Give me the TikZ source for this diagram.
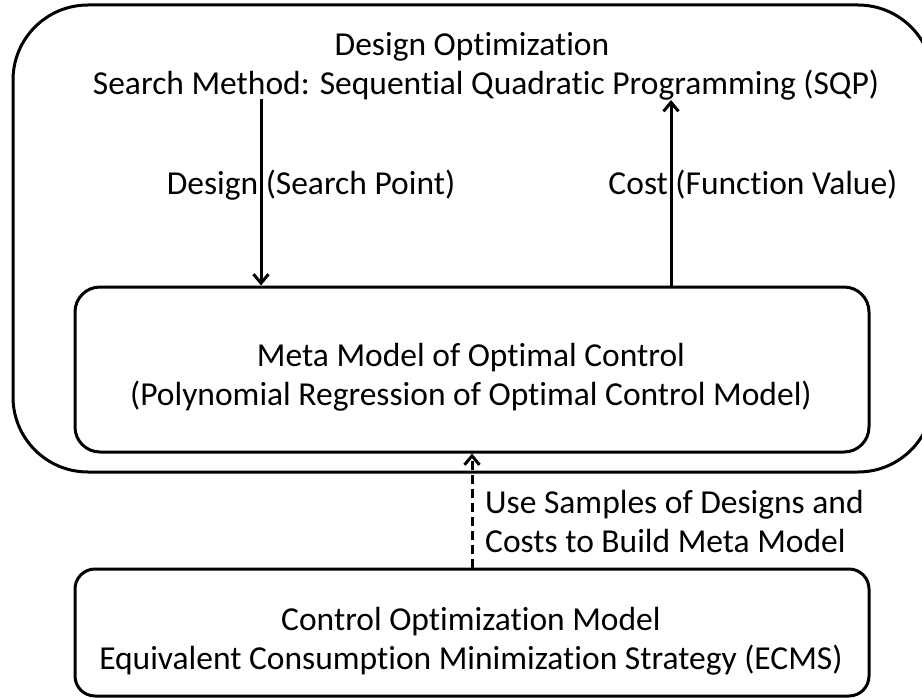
\documentclass[tikz,border=0pt]{standalone}
\usepackage{fontspec}
\setmainfont{Carlito}[Ligatures={NoCommon}]
\usetikzlibrary{arrows.meta}
\begin{document}
\begin{tikzpicture}[x=1pt,y=-1pt,
  every node/.style={font=\fontsize{33.5}{39}\selectfont},
  box/.style={draw,line width=3pt,inner sep=0pt},
  txt/.style={inner sep=0pt,align=center},
  arr/.style={line width=3pt,-{Straight Barb[length=9pt,width=15pt,line width=3pt]}},
  darr/.style={arr,dash pattern=on 9pt off 5pt}]
\useasboundingbox (0,0) rectangle (922,698);
\node[box,rounded corners=75pt,minimum width=920pt,minimum height=467pt] (outer) at (473,238.5) {};
\node[box,rounded corners=25pt,minimum width=794pt,minimum height=165pt] (meta) at (472,369.5) {};
\node[box,rounded corners=20pt,minimum width=794pt,minimum height=127pt] (ctrl) at (472,632.5) {};
\node[txt] (title) at (486,66) {Design Optimization\hspace*{28pt}\\Search Method: Sequential Quadratic Programming (SQP)};
\node[txt] (metatxt) at (471,377) {Meta Model of Optimal Control\\(Polynomial Regression of Optimal Control Model)};
\node[txt] (ctrltxt) at (471,641) {Control Optimization Model\\Equivalent Consumption Minimization Strategy (ECMS)};
\node[txt] (dlab) at (311,185) {Design (Search Point)};
\node[txt] (clab) at (753,185) {Cost (Function Value)};
\node[txt,align=left,anchor=west] (ulab) at (485,521) {Use Samples of Designs and\\Costs to Build Meta Model};
\coordinate (ds) at (261,99);
\coordinate (ce) at (671,100);
\draw[arr] (ds) -- (ds |- meta.north);
\draw[arr] (ce |- meta.north) -- (ce);
\draw[darr] (ctrl.north) -- (meta.south);
\end{tikzpicture}
\end{document}
